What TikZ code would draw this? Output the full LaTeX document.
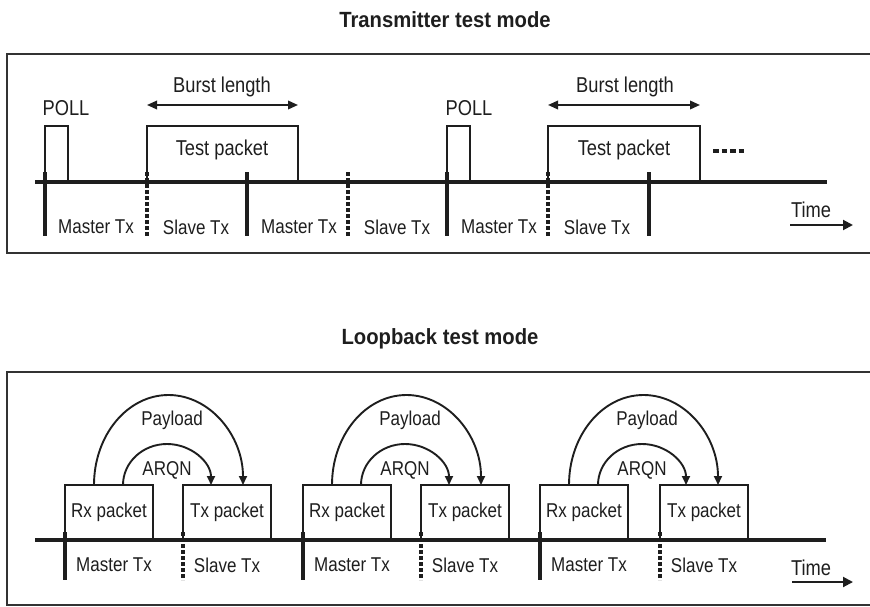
\documentclass[tikz,border=0pt]{standalone}
\usepackage{fontspec}
\setmainfont{Liberation Sans}[FakeStretch=0.85]
\newfontfamily\titlefont{Liberation Sans}[FakeStretch=0.92]
\usetikzlibrary{arrows.meta}
\definecolor{ink}{HTML}{1E1E1E}
\definecolor{framec}{HTML}{333333}
\begin{document}
\begin{tikzpicture}[x=1pt,y=-1pt,
  every node/.style={inner sep=0pt, outer sep=0pt, text=ink},
  lbl/.style={font=\fontsize{20}{23}\selectfont},
  biglbl/.style={font=\fontsize{21.5}{25}\selectfont},
  ttl/.style={font=\titlefont\bfseries\fontsize{22}{26}\selectfont},
  frm/.style={draw=framec, line width=1.5pt},
  axisline/.style={draw=ink, line width=4.5pt},
  solidmark/.style={draw=ink, line width=4pt},
  dotmark/.style={draw=ink, line width=3.5pt, dash pattern=on 3.5pt off 2.5pt},
  pkt/.style={draw=ink, line width=1.6pt, anchor=south west},
  flow/.style={draw=ink, line width=1.9pt, -{Triangle[length=9pt,width=8pt]}},
  dimarrow/.style={draw=ink, line width=1.9pt, {Triangle[length=10pt,width=8.5pt]}-{Triangle[length=10pt,width=8.5pt]}},
  timearrow/.style={draw=ink, line width=2pt, -{Triangle[length=10pt,width=10pt]}},
  moredots/.style={draw=ink, line width=4.5pt, dash pattern=on 5.5pt off 3pt},
]
\useasboundingbox (0,0) rectangle (870,607);

% ---------- titles ----------
\node[ttl] (title1) at (445,20) {Transmitter test mode};
\node[ttl] (title2) at (440,339) {Loopback test mode};

% ---------- frames ----------
\draw[frm] (870,54) -- (7,54) -- (7,253) -- (870,253);
\draw[frm] (870,372) -- (7,372) -- (7,605) -- (870,605);

% ---------- Transmitter test mode ----------
\node[pkt, minimum width=23pt, minimum height=56pt] (poll1) at (45,182) {};
\node[pkt, minimum width=23pt, minimum height=56pt] (poll2) at (447,182) {};
\node[biglbl] (polllbl1) at (66,108) {POLL};
\node[biglbl] (polllbl2) at (469,108) {POLL};

\node[pkt, minimum width=151pt, minimum height=56pt] (test1) at (147,182) {};
\node[pkt, minimum width=152pt, minimum height=56pt] (test2) at (548,182) {};
\node[biglbl] (testlbl1) at (222,150) {Test packet};
\node[biglbl] (testlbl2) at (624,150) {Test packet};

\draw[dimarrow] ([yshift=21pt]test1.north west) -- ([yshift=21pt]test1.north east);
\draw[dimarrow] ([yshift=21pt]test2.north west) -- ([yshift=21pt]test2.north east);
\node[biglbl] (burst1) at (222,87) {Burst length};
\node[biglbl] (burst2) at (625,87) {Burst length};

\coordinate (dotsA) at (713,151);
\coordinate (dotsB) at (745,151);
\draw[moredots] (dotsA) -- (dotsB);

\coordinate (axisAL) at (35,182);
\coordinate (axisAR) at (827,182);
\draw[axisline] (axisAL) -- (axisAR);
\foreach \x in {45,247,447,649} \draw[solidmark] (\x,172) -- (\x,236);
\foreach \x in {147,348,548} \draw[dotmark] (\x,172) -- (\x,236);

\node[lbl] (mA1) at (96,227) {Master Tx};
\node[lbl] (mA2) at (299,227) {Master Tx};
\node[lbl] (mA3) at (499,227) {Master Tx};
\node[lbl] (sA1) at (196,227) {Slave Tx};
\node[lbl] (sA2) at (397,227) {Slave Tx};
\node[lbl] (sA3) at (597,227) {Slave Tx};

\node[biglbl] (timeA) at (811,210) {Time};
\coordinate (timeAs) at (790,225);
\coordinate (timeAe) at (853,225);
\draw[timearrow] (timeAs) -- (timeAe);

% ---------- Loopback test mode ----------
\foreach \i/\rx/\tx in {1/65/183, 2/303/421, 3/540/660}{
  \node[pkt, lbl, minimum width=88pt, minimum height=55pt] (rx\i) at (\rx,540) {Rx packet};
  \node[pkt, lbl, minimum width=88pt, minimum height=55pt] (tx\i) at (\tx,540) {Tx packet};
  \draw[flow] ([xshift=29pt]rx\i.north west) arc[start angle=180, end angle=0, x radius=74.5pt, y radius=90pt];
  \draw[flow] ([xshift=58pt]rx\i.north west) arc[start angle=180, end angle=0, x radius=44pt, y radius=41pt];
  \node[lbl] (pay\i) at (\rx+107,420) {Payload};
  \node[lbl] (arqn\i) at (\rx+102,470) {ARQN};
  \node[lbl] (mB\i) at (\rx+49,565) {Master Tx};
  \node[lbl] (sB\i) at (\tx+44,565) {Slave Tx};
}
\coordinate (axisBL) at (35,540);
\coordinate (axisBR) at (826,540);
\draw[axisline] (axisBL) -- (axisBR);
\foreach \x in {65,303,540} \draw[solidmark] (\x,532) -- (\x,580);
\foreach \x in {183,421,660} \draw[dotmark] (\x,532) -- (\x,580);

\node[biglbl] (timeB) at (811,568) {Time};
\coordinate (timeBs) at (792,582);
\coordinate (timeBe) at (853,582);
\draw[timearrow] (timeBs) -- (timeBe);
\end{tikzpicture}
\end{document}
